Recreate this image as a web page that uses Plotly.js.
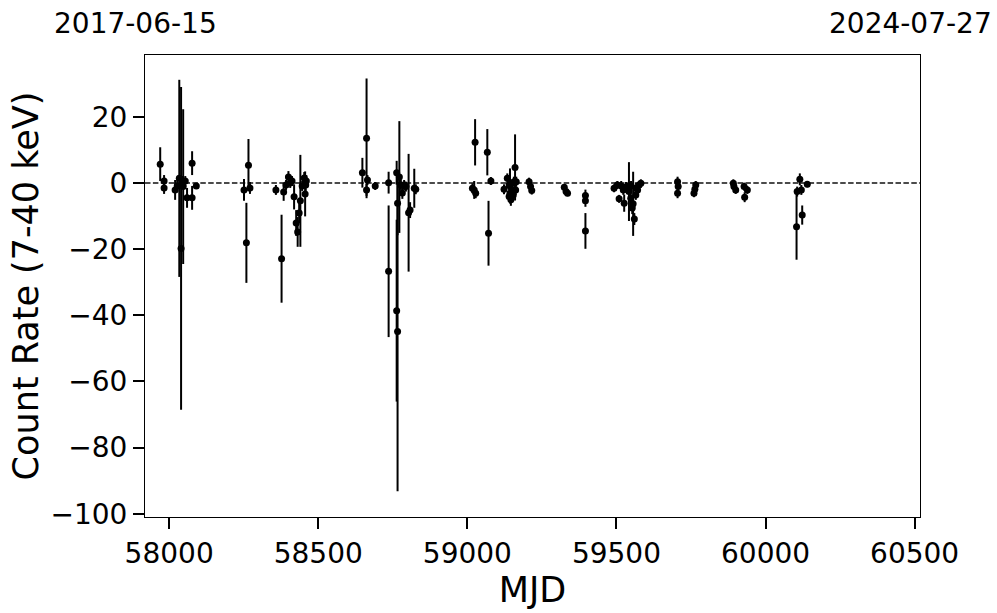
<!DOCTYPE html>
<html>
<head>
<meta charset="utf-8">
<script src="https://cdn.plot.ly/plotly-3.0.1.min.js"></script>
<style>html,body{margin:0;padding:0;background:#fff;}#chart{width:997px;height:613px;}</style>
</head>
<body>
<div id="chart"></div>
<script>
// Observation times (MJD)
const mjd = [
  57970, 57983, 57983, 58020, 58027, 58034, 58040, 58047, 58044, 58054, 58060, 58077, 58077, 58091,
  58251, 58266, 58271, 58259, 58358, 58377, 58384, 58392, 58400, 58406, 58412, 58419, 58426, 58431,
  58436, 58440, 58446, 58453, 58456, 58458, 58460,
  58648, 58662, 58665, 58662, 58691, 58736, 58736, 58763, 58763, 58766, 58766, 58772, 58777, 58782,
  58788, 58794, 58803, 58808, 58822, 58827,
  59017, 59023, 59026, 59028, 59067, 59071, 59079, 59123, 59134, 59140, 59143, 59146, 59143, 59151,
  59156, 59160, 59162, 59164, 59154, 59140, 59207, 59212, 59216, 59325, 59331, 59336, 59396, 59396, 59396,
  59492, 59503, 59509, 59526, 59542, 59553, 59548, 59556, 59560, 59565, 59571, 59576, 59582, 59516,
  59532, 59539, 59523, 59549, 59566,
  59705, 59707, 59705, 59766, 59763, 59760, 59892, 59894, 59900, 59928, 59939, 59930,
  60104, 60106, 60115, 60120, 60123, 60140
];
// Count rate (7-40 keV)
const rate = [
  5.7, 0.6, -1.5, -2.1, -0.9, 1.4, -19.8, -1.1, 0.3, 0.6, -4.5, -4.5, 6.0, -0.9,
  -2.1, 5.4, -1.5, -18.1, -2.1, -22.9, -2.7, -0.6, 1.8, 0.0, 0.6, -4.2, -12.1, -14.8,
  -9.1, -5.4, -0.9, 1.5, -3.3, -0.6, 0.6,
  3.1, 13.5, 0.9, -2.1, -0.9, 0.1, -26.7, 3.1, -38.6, -44.9, -6.1, 1.8, -0.6, -3.0,
  -0.6, -1.1, -9.0, -8.2, -1.6, -1.9,
  -1.6, -2.1, 12.3, -3.1, 9.3, -15.2, 0.6, -1.9, 1.4, -0.6, -3.1, -5.1, -0.9, -2.1,
  0.4, 4.7, -2.1, 0.4, -3.6, -4.1, 0.4, -1.1, -2.3, -1.3, -2.6, -3.1, -3.8, -5.4, -14.5,
  -1.6, -0.6, -4.8, -6.1, -2.6, -7.6, -4.6, -6.3, -10.9, -3.6, -2.1, -0.6, -0.1, -0.9,
  -1.2, -1.5, -2.1, -0.9, -1.5,
  0.4, -1.1, -3.1, -0.6, -1.9, -3.1, -0.1, -1.1, -2.1, -1.1, -2.1, -4.3,
  -13.2, -2.6, 1.1, -2.1, -9.7, -0.4
];
// 1-sigma uncertainties
const rateErr = [
  5.1, 1.8, 1.8, 3.0, 1.8, 29.8, 48.8, 23.4, 1.8, 1.5, 3.0, 3.6, 3.6, 0.9,
  3.3, 7.9, 1.8, 12.1, 1.5, 13.3, 2.7, 1.5, 1.8, 1.5, 1.5, 3.8, 3.9, 4.5,
  3.0, 13.9, 1.5, 1.8, 6.8, 1.8, 1.8,
  4.5, 18.1, 1.5, 1.8, 1.2, 3.3, 19.9, 3.6, 27.5, 48.3, 9.7, 16.9, 1.5, 1.8,
  1.5, 1.5, 17.8, 2.4, 5.9, 1.5,
  1.5, 2.7, 7.0, 1.5, 7.0, 9.8, 1.2, 1.5, 1.5, 1.5, 1.5, 1.8, 5.3, 1.5,
  1.5, 10.0, 1.5, 1.5, 1.5, 1.5, 1.2, 1.2, 1.2, 0.9, 0.9, 0.9, 1.8, 1.8, 5.4,
  1.2, 1.2, 1.2, 2.6, 8.9, 1.8, 1.5, 9.7, 1.8, 1.5, 1.2, 1.2, 1.2, 1.5,
  1.5, 1.5, 1.5, 1.5, 1.5,
  1.5, 1.2, 1.5, 1.2, 1.2, 1.2, 1.2, 1.2, 1.2, 1.2, 1.2, 1.5,
  10.0, 1.5, 1.8, 1.5, 2.9, 0.9
];
const xTickVals = [58000, 58500, 59000, 59500, 60000, 60500];
const yTickVals = [-100, -80, -60, -40, -20, 0, 20];
const dateLabels = ["2017-06-15", "2024-07-27"];

const FONT = "DejaVu Sans, sans-serif";
const TICK = 28, TITLE = 35;

const trace = {
  x: mjd, y: rate, type: "scatter", mode: "markers",
  marker: {color: "black", size: 7},
  error_y: {type: "data", array: rateErr, visible: true, color: "black", thickness: 2, width: 0},
  hoverinfo: "x+y"
};

const layout = {
  width: 997, height: 613,
  margin: {l: 145, r: 77, t: 55, b: 96},
  paper_bgcolor: "white", plot_bgcolor: "white",
  showlegend: false,
  font: {family: FONT, color: "black", size: TICK},
  xaxis: {
    range: [57919, 60518], tickvals: xTickVals, ticktext: xTickVals.map(String),
    ticks: "outside", ticklen: 11, tickwidth: 2, tickcolor: "black",
    showline: true, linecolor: "black", linewidth: 1, mirror: true,
    showgrid: false, zeroline: false,
    tickfont: {family: FONT, size: TICK},
    title: {text: "MJD", font: {family: FONT, size: TITLE}, standoff: 1}
  },
  yaxis: {
    range: [-101, 38.7], tickvals: yTickVals,
    ticks: "outside", ticklen: 11, tickwidth: 2, tickcolor: "black",
    showline: true, linecolor: "black", linewidth: 1, mirror: true,
    showgrid: false, zeroline: false,
    tickfont: {family: FONT, size: TICK},
    title: {text: "Count Rate (7-40 keV)", font: {family: FONT, size: TITLE}, standoff: 1}
  },
  shapes: [{
    type: "line", xref: "paper", x0: 0, x1: 1, yref: "y", y0: 0, y1: 0,
    line: {color: "#111", width: 1.5, dash: "5.5px,2.4px"}, layer: "below"
  }],
  annotations: [
    {text: dateLabels[0], xref: "paper", yref: "paper", x: -0.012, y: 1, xanchor: "center", yanchor: "bottom", yshift: 13, showarrow: false, font: {family: FONT, size: TICK}},
    {text: dateLabels[1], xref: "paper", yref: "paper", x: 0.988, y: 1, xanchor: "center", yanchor: "bottom", yshift: 13, showarrow: false, font: {family: FONT, size: TICK}}
  ]
};

Plotly.newPlot("chart", [trace], layout, {staticPlot: true, displayModeBar: false});
</script>
</body>
</html>
